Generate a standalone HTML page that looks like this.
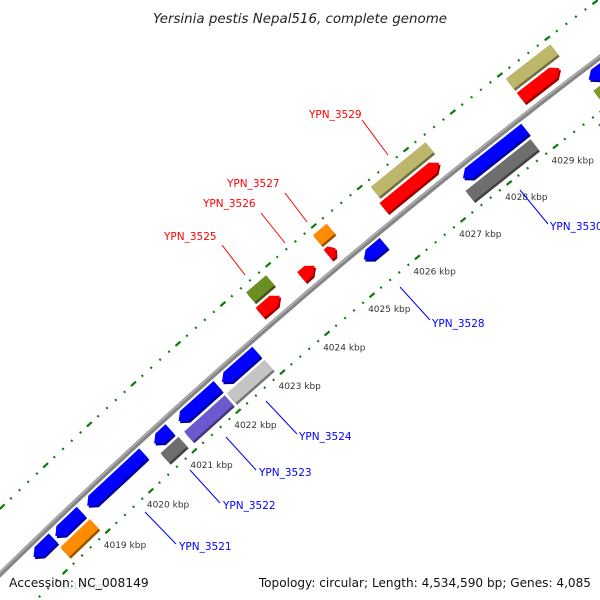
<!DOCTYPE html>
<html><head><meta charset="utf-8"><style>
html,body{margin:0;padding:0;background:#fff;width:600px;height:600px;overflow:hidden}
svg{display:block;overflow:hidden}
text{font-family:"DejaVu Sans","Liberation Sans",sans-serif}
</style></head><body>
<svg id="map" width="600" height="600" viewBox="0 0 600 600" xmlns="http://www.w3.org/2000/svg">
<rect width="600" height="600" fill="#fff"/>
<g id="ticks"></g>
<g id="backbone"></g>
<g id="genes"></g>
<g id="kbp"></g>
<g font-size="10.5">
 <g><line x1="362" y1="120" x2="388" y2="155" stroke="#f00"/><text x="309" y="118" fill="#f00">YPN_3529</text></g>
 <g><line x1="285" y1="193" x2="307" y2="222" stroke="#f00"/><text x="227" y="187" fill="#f00">YPN_3527</text></g>
 <g><line x1="261" y1="213" x2="285" y2="243" stroke="#f00"/><text x="203" y="207" fill="#f00">YPN_3526</text></g>
 <g><line x1="222" y1="245" x2="245" y2="275" stroke="#f00"/><text x="164" y="240" fill="#f00">YPN_3525</text></g>
 <g><line x1="145" y1="512" x2="176" y2="544" stroke="#00f"/><text x="179" y="550" fill="#00f">YPN_3521</text></g>
 <g><line x1="190" y1="470" x2="220" y2="503" stroke="#00f"/><text x="223" y="509" fill="#00f">YPN_3522</text></g>
 <g><line x1="226" y1="437" x2="256" y2="470" stroke="#00f"/><text x="259" y="476" fill="#00f">YPN_3523</text></g>
 <g><line x1="266" y1="401" x2="297" y2="434" stroke="#00f"/><text x="299" y="440" fill="#00f">YPN_3524</text></g>
 <g><line x1="400" y1="287" x2="430" y2="320" stroke="#00f"/><text x="432" y="327" fill="#00f">YPN_3528</text></g>
 <g><line x1="520" y1="190" x2="548" y2="224" stroke="#00f"/><text x="550" y="230" fill="#00f">YPN_3530</text></g>
</g>
<text x="300" y="23" text-anchor="middle" font-size="13.4" font-style="italic" fill="#222">Yersinia pestis Nepal516, complete genome</text>
<text x="9" y="587" font-size="12.3" fill="#111">Accession: NC_008149</text>
<text x="591" y="587" text-anchor="end" font-size="12.1" fill="#111">Topology: circular; Length: 4,534,590 bp; Genes: 4,085</text>
</svg>
<script>
// gene data (kbp)
const cdsStarts  = [4017.79,4018.30,4019.04,4020.58,4021.14,4022.12,4025.28,4027.44,4030.13, 4023.37,4024.29,4024.87,4026.09,4029.04];
const cdsEnds    = [4018.25,4018.90,4020.34,4020.94,4022.03,4022.90,4025.72,4028.78,4031.20, 4023.81,4024.58,4025.04,4027.29,4029.86];
const cdsStrands = [-1,-1,-1,-1,-1,-1,-1,-1,-1, 1,1,1,1,1];
const cogStarts  = [4018.23,4020.55,4021.09,4022.06,4027.34,4030.08, 4023.42,4024.89,4026.15,4029.04];
const cogEnds    = [4018.92,4020.96,4022.01,4022.91,4028.74,4031.20, 4023.86,4025.19,4027.33,4029.98];
const cogStrands = [-1,-1,-1,-1,-1,-1, 1,1,1,1];
const cogColors  = ["#ff8c00","#6e6e6e","#6a5acd","#c4c4c4","#6e6e6e","#7f9a2a","#6b8e23","#ff8c00","#bdb76b","#bdb76b"];
const tickKbp    = [4017,4018,4019,4020,4021,4022,4023,4024,4025,4026,4027,4028,4029,4030,4031];

const NS="http://www.w3.org/2000/svg";
const CX=4388, CY=5060, R=6275, K0=4020, TH0=-132.84, DTH=0.543;
function pt(k,off){const t=(TH0+(k-K0)*DTH)*Math.PI/180;const r=R+off;return [CX+r*Math.cos(t),CY+r*Math.sin(t)];}
function P(a){return a.map(p=>p[0].toFixed(1)+","+p[1].toFixed(1)).join(" ");}
function shade(hex,f){const n=parseInt(hex.slice(1),16);let r=n>>16,g=(n>>8)&255,b=n&255;r=Math.round(r*f);g=Math.round(g*f);b=Math.round(b*f);return "rgb("+r+","+g+","+b+")";}

// backbone
const bb=document.getElementById('backbone');
{let a=[],b=[];for(let k=4015;k<=4032;k+=0.25){a.push(pt(k,0));b.push(pt(k,1.2));}
 const l1=document.createElementNS(NS,'polyline');
 
 
 l1.setAttribute('points',P(a));l1.setAttribute('fill','none');l1.setAttribute('stroke','#858585');l1.setAttribute('stroke-width','5');bb.appendChild(l1);
 const l2=document.createElementNS(NS,'polyline');
 
 
 l2.setAttribute('points',P(b));l2.setAttribute('fill','none');l2.setAttribute('stroke','#b5b5b5');l2.setAttribute('stroke-width','1.3');bb.appendChild(l2);}

// ticks
const tg=document.getElementById('ticks');
[47,-43.5].forEach(off=>{
 for(let i=Math.round(4015*5);i<=Math.round(4032*5);i++){
  const k=i/5;const major=(i%5===0);const half=major?0.055:0.016;
  const a=pt(k-half,off),b=pt(k+half,off);
  const l=document.createElementNS(NS,'line');
  
  
  l.setAttribute('x1',a[0]);l.setAttribute('y1',a[1]);l.setAttribute('x2',b[0]);l.setAttribute('y2',b[1]);
  l.setAttribute('stroke','#0a7a0a');l.setAttribute('stroke-width',2.2);
  tg.appendChild(l);
 }
});
const kg=document.getElementById('kbp');
tickKbp.forEach(k=>{
 const p=pt(k,-43.5);
 const t=document.createElementNS(NS,'text');
 
 
 t.setAttribute('x',p[0]-4);t.setAttribute('y',p[1]+17);t.setAttribute('font-size','9');
 t.setAttribute('fill',p[1]>560?'#c8dcc8':'#333');
 t.textContent=k+" kbp";kg.appendChild(t);
});

// genes
const gg=document.getElementById('genes');
function feature(s,e,strand,off,color,arrow,name){
 const h=6.5, al=arrow?Math.min(0.13,(e-s)*0.5):0;
 let pts;
 if(strand>0){pts=[pt(s,off-h),pt(e-al,off-h),pt(e,off),pt(e-al,off+h),pt(s,off+h)];}
 else{pts=[pt(e,off-h),pt(s+al,off-h),pt(s,off),pt(s+al,off+h),pt(e,off+h)];}
 const sh=document.createElementNS(NS,'polygon');
 
 
 sh.setAttribute('points',P(pts.map(p=>[p[0]+1.5,p[1]+2])));sh.setAttribute('fill',shade(color,0.6));
 gg.appendChild(sh);
 const pg=document.createElementNS(NS,'polygon');
 
 
 pg.setAttribute('points',P(pts));pg.setAttribute('fill',color);
 gg.appendChild(pg);
}
cdsStarts.forEach((s,i)=>{
 const st=cdsStrands[i];
 feature(s,cdsEnds[i],st,st>0?16:-11,st>0?"#ff0000":"#0000ff",true,st>0?'forward-cds':'reverse-cds');
});
cogStarts.forEach((s,i)=>{
 const st=cogStrands[i];
 feature(s,cogEnds[i],st,st>0?34:-29,cogColors[i],false,'cog-feature');
});
</script>
</body></html>
